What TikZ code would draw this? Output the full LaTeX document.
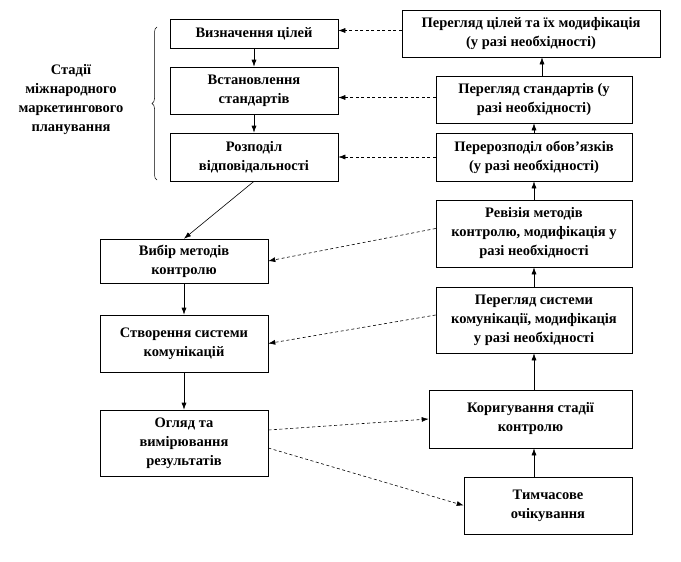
\documentclass[tikz,border=0pt]{standalone}
\usepackage{fontspec}
\setmainfont{Liberation Serif}
\usetikzlibrary{arrows.meta,decorations.pathreplacing}
\tikzset{
  stagebox/.style={draw,line width=0.6pt,align=center,inner sep=0pt,
    font=\fontsize{14.5}{19}\selectfont\bfseries},
  arr/.style={line width=0.6pt,-{Latex[length=7pt,width=5pt]}},
  darr/.style={arr,dash pattern=on 3pt off 2.5pt}
}
\begin{document}
\begin{tikzpicture}[x=1pt,y=-1pt]
\useasboundingbox (0,0) rectangle (681,562);

% planning stages
\node[stagebox,minimum width=168,minimum height=29] (goals) at (254,33.5) {Визначення цілей};
\node[stagebox,minimum width=168,minimum height=47] (stand) at (254,90.5) {Встановлення\\стандартів};
\node[stagebox,minimum width=168,minimum height=48] (resp) at (254,157) {Розподіл\\відповідальності};
\node[align=center,font=\fontsize{14.5}{19}\selectfont\bfseries] (plan) at (71,100) {Стадії\\міжнародного\\маркетингового\\планування};
\draw[line width=0.5pt,decorate,decoration={brace,amplitude=5pt}]
  (157,180) -- (157,27);

% control stages
\node[stagebox,minimum width=168,minimum height=44] (meth) at (184,261) {Вибір методів\\контролю};
\node[stagebox,minimum width=168,minimum height=57] (comm) at (184,343.5) {Створення системи\\комунікацій};
\node[stagebox,minimum width=168,minimum height=66] (meas) at (184,443) {Огляд та\\вимірювання\\результатів};

% corrections
\node[stagebox,minimum width=258,minimum height=47] (rgoals) at (531,33.5) {Перегляд цілей та їх модифікація\\(у разі необхідності)};
\node[stagebox,minimum width=196,minimum height=47] (rstand) at (534,99.5) {Перегляд стандартів (у\\разі необхідності)};
\node[stagebox,minimum width=196,minimum height=48] (rresp) at (534,157) {Перерозподіл обов'язків\\(у разі необхідності)};
\node[stagebox,minimum width=196,minimum height=67] (rmeth) at (534,233.5) {Ревізія методів\\контролю, модифікація у\\разі необхідності};
\node[stagebox,minimum width=196,minimum height=66] (rcomm) at (534,320) {Перегляд системи\\комунікації, модифікація\\у разі необхідності};
\node[stagebox,minimum width=203,minimum height=58] (corr) at (530.5,419) {Коригування стадії\\контролю};
\node[stagebox,minimum width=168,minimum height=57] (wait) at (548,505.5) {Тимчасове\\очікування};

\draw[arr] (goals) -- (stand);
\draw[arr] (stand) -- (resp);
\draw[arr] (resp.south) -- (meth.north);
\draw[arr] (meth) -- (comm);
\draw[arr] (comm) -- (meas);
\draw[darr] ([yshift=13pt]meas.east) -- (corr.west);
\draw[darr] ([yshift=-5pt]meas.east) -- (wait.west);

\draw[arr] (rcomm.north |- wait.north) -- (rcomm.north |- corr.south);
\draw[arr] (rcomm.north |- corr.north) -- (rcomm.south);
\draw[arr] (rcomm.north) -- (rmeth.south);
\draw[arr] (rmeth) -- (rresp);
\draw[arr] (rresp) -- (rstand);
\draw[arr] ([xshift=8pt]rstand.north) -- ([xshift=8pt]rstand.north |- rgoals.south);

\coordinate (rgoalsin) at ([yshift=3pt]rgoals.west);
\coordinate (rstandin) at ([yshift=2pt]rstand.west);
\draw[darr] (rgoalsin) -- (goals.east |- rgoalsin);
\draw[darr] (rstandin) -- (stand.east |- rstandin);
\draw[darr] (rresp.west) -- (resp.east);
\draw[darr] ([yshift=5pt]rmeth.west) -- (meth.east);
\draw[darr] ([yshift=5pt]rcomm.west) -- (comm.east);
\end{tikzpicture}
\end{document}
